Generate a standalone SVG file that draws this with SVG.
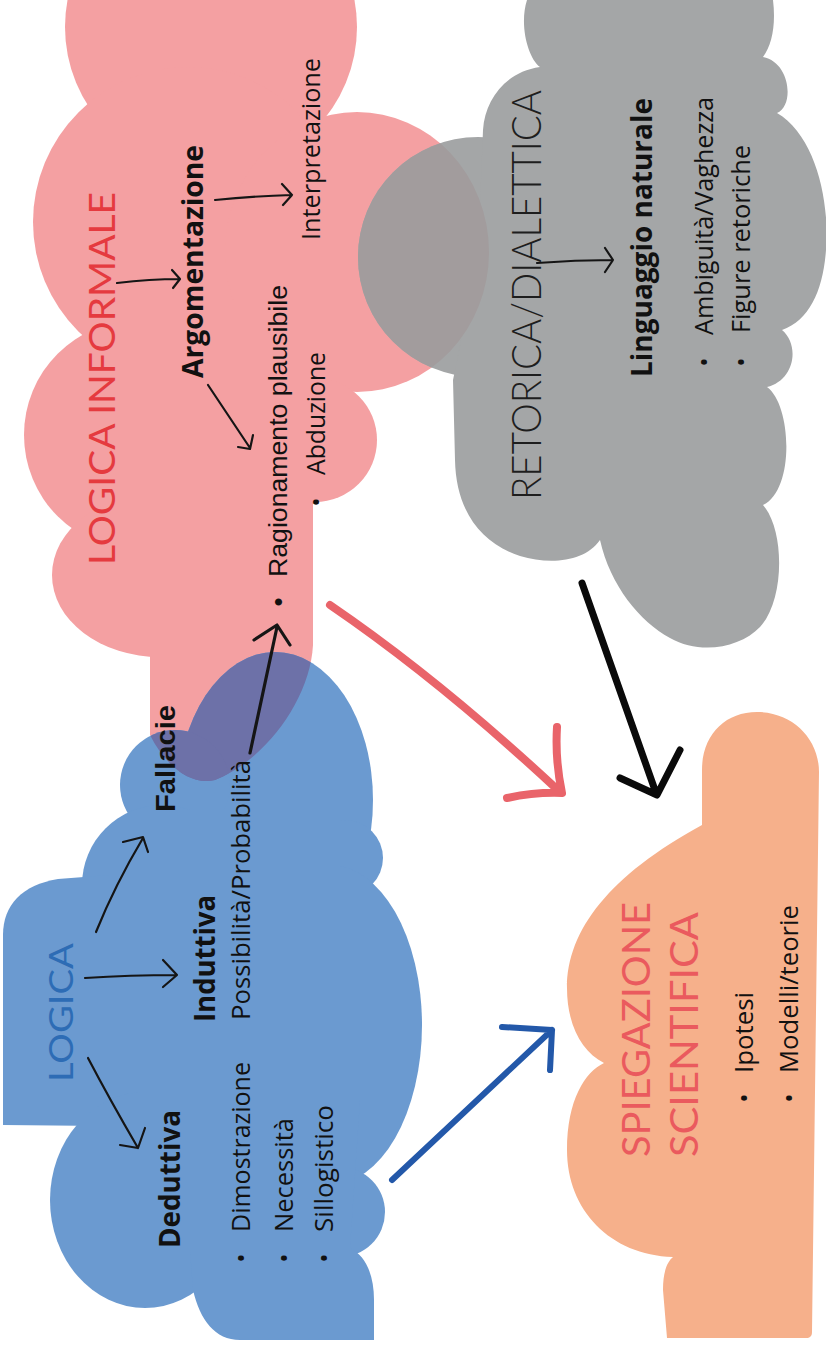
<svg xmlns="http://www.w3.org/2000/svg" xmlns:xlink="http://www.w3.org/1999/xlink" width="826" height="1347" viewBox="0 0 826 1347">
<defs>
<style>
.pink{fill:#F4A0A2}
.blue{fill:#6B9AD0}
.grey{fill:#A4A6A7}
.orange{fill:#F6B08B}
.ovb{fill:#6D71A8}
.ovg{fill:#A29C9D}
text{font-family:"Open Sans","Liberation Sans",sans-serif;fill:#111}
.title{font-family:Lato,"Open Sans",sans-serif;font-weight:400}
.b{font-weight:700}
.r{font-size:25px}
.ar{font-family:"Liberation Sans",Arial,sans-serif}
.bul{text-anchor:middle}
.thin{fill:none;stroke:#151515;stroke-width:2.2;stroke-linecap:round;stroke-linejoin:round}
.thick{fill:none;stroke-linecap:round;stroke-linejoin:round}
</style>
<circle id="p1" cx="211" cy="27" r="146"/>
<circle id="p2" cx="188" cy="222" r="155"/>
<ellipse id="p3" cx="357" cy="252" rx="132" ry="140"/>
<circle id="p4" cx="139" cy="435" r="115"/>
<ellipse id="p5" cx="160" cy="575" rx="108" ry="82"/>
<circle id="p6" cx="315" cy="440" r="62"/>
<rect id="p7" x="120" y="300" width="193" height="300"/>
<path id="p8" d="M150,560 L313,560 L313,645 C310,700 265,760 215,780 C190,786 165,765 150,735 Z"/>
<clipPath id="pinkClip">
<use xlink:href="#p1"/><use xlink:href="#p2"/><use xlink:href="#p3"/><use xlink:href="#p4"/>
<use xlink:href="#p5"/><use xlink:href="#p6"/><use xlink:href="#p7"/><use xlink:href="#p8"/>
</clipPath>
</defs>

<g id="logica-informale">
<g class="pink">
<use xlink:href="#p1"/><use xlink:href="#p2"/><use xlink:href="#p3"/><use xlink:href="#p4"/>
<use xlink:href="#p5"/><use xlink:href="#p6"/><use xlink:href="#p7"/><use xlink:href="#p8"/>
</g>
<text class="title" style="font-size:37px;fill:#E53A3F" transform="translate(115 565) rotate(-90)" textLength="373" lengthAdjust="spacingAndGlyphs">LOGICA INFORMALE</text>
</g>
<g id="argomentazione"><text class="b" style="font-size:28px" transform="translate(203 378) rotate(-90)" textLength="233" lengthAdjust="spacingAndGlyphs">Argomentazione</text></g>
<g id="interpretazione"><text class="r" transform="translate(320 240) rotate(-90)" textLength="182" lengthAdjust="spacingAndGlyphs">Interpretazione</text></g>
<g id="ragionamento">
<text class="ar bul" style="font-size:26px" transform="translate(287 602) rotate(-90)">•</text>
<text class="ar" style="font-size:26.5px" transform="translate(287 577) rotate(-90)" textLength="292" lengthAdjust="spacingAndGlyphs">Ragionamento plausibile</text>
<text class="r bul" transform="translate(325 502) rotate(-90)">•</text>
<text class="r" transform="translate(325 475) rotate(-90)" textLength="123" lengthAdjust="spacingAndGlyphs">Abduzione</text>
</g>

<g id="logica">
<g class="blue">
<ellipse cx="275" cy="800" rx="98" ry="148"/>
<circle cx="175" cy="785" r="55"/>
<circle cx="162" cy="885" r="80"/>
<circle cx="345" cy="858" r="38"/>
<path d="M3,1125 L3,935 C3,905 22,885 58,879 L110,875 L300,875 L300,1128 Z"/>
<ellipse cx="330" cy="1025" rx="92" ry="160"/>
<circle cx="340" cy="1212" r="45"/>
<ellipse cx="145" cy="1200" rx="95" ry="108"/>
<rect x="140" y="810" width="200" height="300"/>
<path d="M190,1100 L360,1100 L350,1248 C366,1256 374,1275 374,1300 L374,1340 L240,1340 C215,1340 200,1320 193,1290 L190,1250 Z"/>
</g>
<g class="ovb" clip-path="url(#pinkClip)">
<ellipse cx="275" cy="800" rx="98" ry="148"/>
<circle cx="175" cy="785" r="55"/>
</g>
<text class="title" style="font-size:33px;fill:#2D6CB5" transform="translate(73 1082) rotate(-90)" textLength="139" lengthAdjust="spacingAndGlyphs">LOGICA</text>
</g>
<g id="fallacie"><text class="ar b" style="font-size:28px" transform="translate(175 812) rotate(-90)" textLength="107" lengthAdjust="spacingAndGlyphs">Fallacie</text></g>
<g id="deduttiva">
<text class="b" style="font-size:29px" transform="translate(180 1248) rotate(-90)" textLength="138" lengthAdjust="spacingAndGlyphs">Deduttiva</text>
<text class="r bul" transform="translate(250 1258) rotate(-90)">•</text>
<text class="r" transform="translate(250 1232) rotate(-90)" textLength="170" lengthAdjust="spacingAndGlyphs">Dimostrazione</text>
<text class="r bul" transform="translate(293 1258) rotate(-90)">•</text>
<text class="r" transform="translate(293 1232) rotate(-90)" textLength="114" lengthAdjust="spacingAndGlyphs">Necessità</text>
<text class="r bul" transform="translate(333 1258) rotate(-90)">•</text>
<text class="r" transform="translate(333 1232) rotate(-90)" textLength="127" lengthAdjust="spacingAndGlyphs">Sillogistico</text>
</g>
<g id="induttiva">
<text class="b" style="font-size:29px" transform="translate(215 1022) rotate(-90)" textLength="127" lengthAdjust="spacingAndGlyphs">Induttiva</text>
<text class="r" transform="translate(250 1020) rotate(-90)" textLength="260" lengthAdjust="spacingAndGlyphs">Possibilità/Probabilità</text>
</g>

<g id="retorica-dialettica">
<circle class="grey" cx="478" cy="257" r="120"/>
<path class="grey" d="M527,0 L773,0 C776,25 772,45 763,57 C790,62 795,105 777,113 C815,135 830,200 826,250 C823,290 810,320 782,330 C800,345 795,380 767,387 C792,405 795,490 763,505 C785,530 785,600 760,627 C740,648 700,655 670,638 C640,622 610,585 600,540 C585,562 550,565 520,556 C480,543 456,510 455,460 L453,380 L478,257 L483,130 C485,100 505,72 540,67 C528,58 519,25 527,0 Z"/>
<circle class="ovg" cx="478" cy="257" r="120" clip-path="url(#pinkClip)"/>
<text class="title" style="font-size:42px;fill:#1E1E1E;font-weight:300" transform="translate(541 500) rotate(-90)" textLength="410" lengthAdjust="spacingAndGlyphs">RETORICA/DIALETTICA</text>
</g>
<g id="linguaggio-naturale">
<text class="b" style="font-size:28px" transform="translate(652 377) rotate(-90)" textLength="279" lengthAdjust="spacingAndGlyphs">Linguaggio naturale</text>
<text class="r bul" transform="translate(713 362) rotate(-90)">•</text>
<text class="r" transform="translate(713 335) rotate(-90)" textLength="238" lengthAdjust="spacingAndGlyphs">Ambiguità/Vaghezza</text>
<text class="r bul" transform="translate(750 362) rotate(-90)">•</text>
<text class="r" transform="translate(750 333) rotate(-90)" textLength="188" lengthAdjust="spacingAndGlyphs">Figure retoriche</text>
</g>

<g id="spiegazione-scientifica">
<path class="orange" d="M702,825 L702,770 C702,735 725,712 757,712 C792,712 819,738 819,772 L812,1332 C812,1336 810,1338 806,1338 L667,1338 L663,1290 C663,1272 667,1262 673,1257 C610,1255 567,1210 567,1150 C567,1100 585,1072 604,1063 C582,1052 567,1025 567,988 C567,930 610,875 702,825 Z"/>
<text class="title" style="font-size:38px;fill:#EA5A5E" transform="translate(650 1157) rotate(-90)" textLength="255" lengthAdjust="spacingAndGlyphs">SPIEGAZIONE</text>
<text class="title" style="font-size:38px;fill:#EA5A5E" transform="translate(698 1157) rotate(-90)" textLength="245" lengthAdjust="spacingAndGlyphs">SCIENTIFICA</text>
<text class="r bul" transform="translate(753 1098) rotate(-90)">•</text>
<text class="r" transform="translate(753 1073) rotate(-90)" textLength="81" lengthAdjust="spacingAndGlyphs">Ipotesi</text>
<text class="r bul" transform="translate(798 1098) rotate(-90)">•</text>
<text class="r" transform="translate(798 1073) rotate(-90)" textLength="168" lengthAdjust="spacingAndGlyphs">Modelli/teorie</text>
</g>

<g id="connectors">
<path class="thin" d="M117,283 Q150,279 180,279 M172,270 L180,279 L173,288"/>
<path class="thin" d="M215,200 Q255,196 292,195 M282,184 L292,195 L283,205"/>
<path class="thin" d="M208,385 L250,448 M238,447 L250,449 L253,435"/>
<path class="thin" d="M537,263 Q575,260 613,260 M605,248 L613,260 L605,272"/>
<path class="thin" d="M88,1058 Q110,1100 138,1148 M120,1145 L138,1148 L145,1128"/>
<path class="thin" d="M85,978 Q130,975 177,975 M163,960 L177,975 L163,987"/>
<path class="thin" d="M96,932 Q115,885 143,838 M123,842 L143,837 L148,852"/>
<path class="thin" style="stroke-width:3.2" d="M250,753 L277,627 M254,640 L277,625 L290,645"/>
<path class="thick" style="stroke:#E9646A;stroke-width:8" d="M330,605 Q440,680 560,792 M557,727 Q555,760 562,793 Q535,792 507,798"/>
<path class="thick" style="stroke:#0A0A0A;stroke-width:7" d="M582,583 L656,793 M680,750 L657,795 L620,778"/>
<path class="thick" style="stroke:#2358A9;stroke-width:6" d="M392,1180 L552,1030 M502,1027 L552,1030 L550,1070"/>
</g>
</svg>
